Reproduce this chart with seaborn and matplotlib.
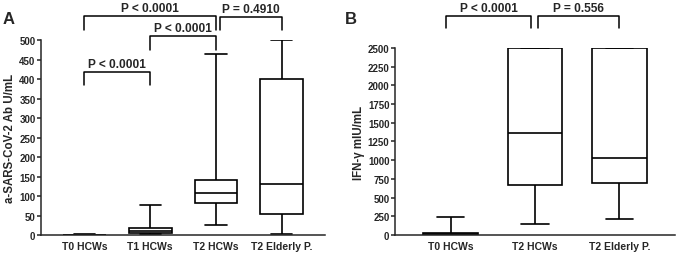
import pandas as pd
import seaborn as sns
import matplotlib.pyplot as plt

# five-number summaries (min, q1, median, q3, max)
groups_a = ['T0 HCWs', 'T1 HCWs', 'T2 HCWs', 'T2 Elderly P.']
ab_t0 = [0, 0, 0.5, 1, 1.5]
ab_t1 = [2, 5, 10, 18, 78]
ab_t2 = [25, 83, 109, 142, 465]
ab_eld = [2, 55, 131, 400, 500]

groups_b = ['T0 HCWs', 'T2 HCWs', 'T2 Elderly P.']
ifn_t0 = [0, 5, 15, 28, 245]
ifn_t2 = [145, 675, 1360, 2500, 2500]
ifn_eld = [215, 700, 1025, 2500, 2500]

# (left group, right group, bracket top, leg bottom, label)
brackets_a = [(0, 1, 418, 385, 'P < 0.0001'),
              (1, 2, 510, 474, 'P < 0.0001'),
              (0, 2, 561, 526, 'P < 0.0001'),
              (2.06, 3, 559, 526, 'P = 0.4910')]
brackets_b = [(-0.05, 0.95, 2928, 2767, 'P < 0.0001'),
              (1.03, 2, 2928, 2767, 'P = 0.556')]

sns.set_style('ticks')
plt.rcParams['font.family'] = ['Liberation Sans', 'DejaVu Sans']
plt.rcParams['font.weight'] = 'bold'

df_a = pd.DataFrame({'group': [g for g, v in zip(groups_a, [ab_t0, ab_t1, ab_t2, ab_eld]) for _ in v],
                     'value': ab_t0 + ab_t1 + ab_t2 + ab_eld})
df_b = pd.DataFrame({'group': [g for g, v in zip(groups_b, [ifn_t0, ifn_t2, ifn_eld]) for _ in v],
                     'value': ifn_t0 + ifn_t2 + ifn_eld})

fig = plt.figure(figsize=(6.76, 2.55), dpi=100)
ax_a = fig.add_axes([0.0607, 0.0745, 0.4203, 0.7645])
ax_b = fig.add_axes([0.5843, 0.0745, 0.4142, 0.7335])


def draw(ax, df, order, brackets, ymax, step, ylabel):
    sns.boxplot(data=df, x='group', y='value', order=order, whis=(0, 100),
                width=0.65, color='white', linecolor='black', linewidth=1.2,
                fliersize=0, ax=ax)
    ax.set_ylim(0, ymax)
    ax.set_yticks(range(0, ymax + 1, step))
    ax.set_xlim(-0.66, len(order) - 0.34)
    ax.set_xlabel('')
    ax.set_ylabel(ylabel, fontsize=8.3, fontweight='bold', labelpad=2)
    ax.tick_params(axis='y', labelsize=7, length=3, width=1.1, pad=1)
    ax.tick_params(axis='x', labelsize=7.5, length=0, pad=4)
    for lab in ax.get_xticklabels() + ax.get_yticklabels():
        lab.set_fontweight('bold')
    for s in ['top', 'right']:
        ax.spines[s].set_visible(False)
    for s in ['left', 'bottom']:
        ax.spines[s].set_linewidth(1.1)
    for x0, x1, top, leg, txt in brackets:
        ax.plot([x0, x0, x1, x1], [leg, top, top, leg], color='black', lw=1.1, clip_on=False)
        ax.text((x0 + x1) / 2, top + ymax * 0.012, txt, ha='center', va='bottom',
                fontsize=8.6, fontweight='bold', clip_on=False)


draw(ax_a, df_a, groups_a, brackets_a, 500, 50, 'a-SARS-CoV-2 Ab U/mL')
draw(ax_b, df_b, groups_b, brackets_b, 2500, 250, 'IFN-\u03b3 mIU/mL')

fig.text(0.004, 0.905, 'A', fontsize=12, fontweight='bold')
fig.text(0.51, 0.905, 'B', fontsize=12, fontweight='bold')

fig.savefig('out.png', dpi=100)
